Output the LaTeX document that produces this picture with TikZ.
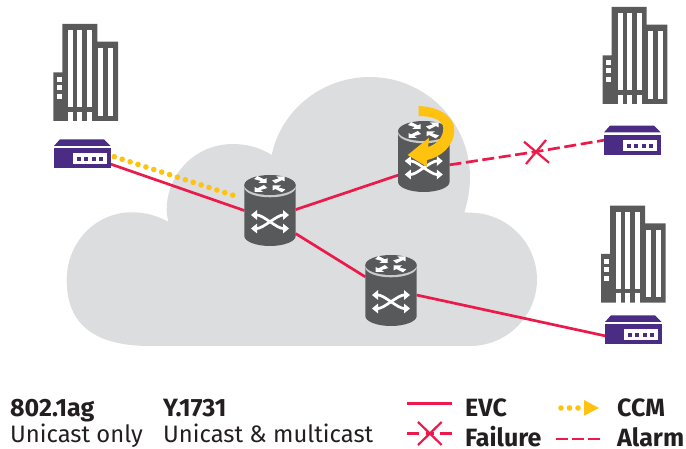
\documentclass[tikz,border=0pt]{standalone}
\usepackage{fontspec}
\setmainfont{Fira Sans}
\usetikzlibrary{arrows.meta,calc}
\definecolor{cloudgrey}{HTML}{DCDDDF}
\definecolor{bldgrey}{HTML}{5A5A5A}
\definecolor{rtgrey}{HTML}{58595B}
\definecolor{rtband}{HTML}{C9CACC}
\definecolor{evcred}{HTML}{EC1A4B}
\definecolor{ccmyellow}{HTML}{FFC20E}
\definecolor{modempurple}{HTML}{4B2C85}
\definecolor{txt}{HTML}{231F20}
\tikzset{
  devbox/.style={inner sep=0pt,outer sep=0pt,minimum width=#1},
  rtbox/.style={devbox=51.4pt,minimum height=71pt},
  mdbox/.style={devbox=56.7pt,minimum height=29pt},
  evc/.style={draw=evcred,line width=2.7pt},
  alarm/.style={draw=evcred,line width=2.7pt,dash pattern=on 12pt off 4.6pt},
  failx/.style={draw=evcred,line width=2.2pt},
  ccm/.style={draw=ccmyellow,line width=5.6pt,line cap=round,dash pattern=on 0pt off 8.3pt},
  legendtext/.style={anchor=base west,inner sep=0pt,text=txt,font=\fontsize{23.8}{28}\selectfont},
  legendbold/.style={legendtext,font=\fontsize{25}{28}\selectfont\bfseries},
  xcurve/.style={draw=white,line width=2.7pt,{Triangle[length=6pt,width=9.5pt]}-{Triangle[length=6pt,width=9.5pt]}},
  cornerarrow/.pic={\fill[white] (1,1) -- (-.4,1) -- (.05,.4) -- (-1.1,-.2) -- (-.55,-1.1) -- (.55,-.1) -- (1,-.5) -- cycle;},
  % origin: bottom left corner of the building
  building/.pic={
    \fill[bldgrey] (0,0) -- (0,-48.7) -- (9,-48.7) -- (9,-97) -- (44,-97) -- (44,-79.3) -- (64.7,-79.3) -- (64.7,0) -- cycle;
    \foreach \xa in {15,24,34}{
      \fill[white] (\xa,-91) rectangle ++(5,77.3);
      \fill[white] (\xa,-9.3) rectangle ++(5,9.3);
    }
    \foreach \xa in {45,55}{\fill[white] (\xa,-72.7) rectangle ++(4.8,67.4);}
    \foreach \ya in {-43.7,-36,-27}{\fill[white] (3.4,\ya) rectangle ++(5,5);}
  },
  % origin: centre of the modem
  modem/.pic={
    \fill[modempurple] (-28.35,-7.8) -- (-22.4,-14.5) -- (21.6,-14.5) -- (28.35,-7.8) -- cycle;
    \fill[modempurple] (-28.35,-5.5) rectangle (28.35,14.5);
    \fill[white] (-9.7,-.5) rectangle (24.3,10.5);
    \foreach \xa in {-5.4,1.9,9.2,16.5}{\fill[modempurple] (\xa,3.5) rectangle ++(4,4);}
  },
  % origin: centre of the router
  router/.pic={
    \fill[rtgrey] (-25.7,-25.5) -- (-25.7,25.5) .. controls (-25.7,31) and (-14,35.5) .. (0,35.5) .. controls (14,35.5) and (25.7,31) .. (25.7,25.5) -- (25.7,-25.5) -- cycle;
    \fill[rtband] (0,-23.2) ellipse [x radius=25.7,y radius=10];
    \fill[rtgrey] (0,-25.5) ellipse [x radius=25.7,y radius=10];
    \pic[xscale=6,yscale=3.3] at (-9.3,-30.8) {cornerarrow};
    \pic[xscale=6,yscale=-3.3] at (8.7,-30.8) {cornerarrow};
    \pic[xscale=-6,yscale=3.3] at (-9.3,-21.8) {cornerarrow};
    \pic[xscale=-6,yscale=-3.3] at (8.7,-21.8) {cornerarrow};
    \draw[xcurve] (-19,4.5) -- (-13,4.5) .. controls (-7,4.5) and (7,18) .. (13,18) -- (19,18);
    \draw[xcurve] (-19,18) -- (-13,18) .. controls (-7,18) and (7,4.5) .. (13,4.5) -- (19,4.5);
  }
}
\begin{document}
\begin{tikzpicture}[x=1pt,y=-1pt]
\useasboundingbox (0,0) rectangle (686,449);
% cloud
\fill[cloudgrey] (168.3,221.7) .. controls (157,215.5) and (145,212.3) .. (131.7,212.3)
  .. controls (95,212.3) and (66.7,243) .. (66.7,280)
  .. controls (66.7,325) and (95,346) .. (150,346)
  -- (470,346)
  .. controls (507,346) and (537,316) .. (537,279.5)
  .. controls (537,243) and (507,212.7) .. (470,212.7)
  -- (464.3,212.3)
  .. controls (468,201) and (470,189) .. (470,177)
  .. controls (470,122) and (425,77) .. (370,77)
  .. controls (322,77) and (281,110) .. (271.7,155)
  .. controls (261,148) and (247,144) .. (233,144)
  .. controls (196,144) and (166.7,173) .. (166.7,210)
  .. controls (166.7,214) and (167.5,218) .. (168.3,221.7) -- cycle;
% devices (anchors for the connectors)
\node[mdbox] (m1) at (82.35,153.8) {};
\node[mdbox] (m2) at (632.35,140.2) {};
\node[mdbox] (m3) at (633.35,329.8) {};
\node[rtbox] (r1) at (270,210.5) {};
\node[rtbox] (r2) at (423.8,156.5) {};
\node[rtbox] (r3) at (391,290.5) {};
\node[inner sep=0pt,minimum size=0pt] (x1) at (536,151.7) {};
% connectors
\draw[evc] (m1.-20.3) -- (r1.180);
\draw[evc] (r1.2.5) -- (r2.216);
\draw[evc] (r1.-42) -- (r3.152);
\draw[evc] (r3.-10) -- (m3.-168);
\draw[alarm] (r2.-18.4) -- (x1.center) -- (m2.180);
\coordinate (ccmA) at ($(m1.east)+(3.6,2.9)$);
\coordinate (ccmB) at ($(r1.west)+(-9,-14.5)$);
\draw[ccm] (ccmA) -- (ccmB);
\draw[failx] (524,141.7) -- (549,162.7);
\draw[failx] (546,140) -- (526,164);
% devices
\pic at (53.3,121) {building};
\pic at (602.7,104) {building};
\pic at (601,302.7) {building};
\pic at (m1) {modem};
\pic at (m2) {modem};
\pic at (m3) {modem};
\pic at (r1) {router};
\pic at (r2) {router};
\pic at (r3) {router};
% rotating arrow
\fill[ccmyellow] (418.7,106) .. controls (440,107) and (454.5,117) .. (454.3,130)
  .. controls (454,147) and (440,157) .. (427.2,160) -- (426.7,166.7) -- (407.7,155) -- (429,137.7) -- (428.2,147)
  .. controls (437,144) and (443.5,137) .. (443.3,128)
  .. controls (443,120) and (432,116) .. (418.7,116) -- cycle;
% legend
\node[legendbold] (t1) at (10,416) {802.1ag};
\node[legendtext] (t2) at (10,442.5) {Unicast only};
\node[legendbold] (t3) at (163,416) {Y.1731};
\node[legendtext] (t4) at (163,442.5) {Unicast \& multicast};
\node[legendbold] (t5) at (465,416) {EVC};
\node[legendbold] (t6) at (465,446.5) {Failure};
\node[legendbold] (t7) at (617,416) {CCM};
\node[legendbold] (t8) at (617,446.5) {Alarm};
\coordinate (la) at (407,403.7); \coordinate (lb) at (452,403.7);
\draw[evc] (la) -- (lb);
\coordinate (lc) at (407,433.3); \coordinate (ld) at (452,433.3);
\draw[alarm,dash pattern=on 12pt off 6.5pt on 8pt off 6.5pt on 12pt] (lc) -- (ld);
\draw[failx] (418,422) -- (441.7,445);
\draw[failx] (441.7,422) -- (418,445);
\coordinate (le) at (561,408); \coordinate (lf) at (578.6,408);
\draw[ccm,dash pattern=on 0pt off 8.5pt] (le) -- (lf);
\fill[ccmyellow] (584,400) -- (599,408) -- (584,415.7) -- cycle;
\coordinate (lg) at (555.7,439); \coordinate (lh) at (600,439);
\draw[alarm,dash pattern=on 12pt off 4.15pt] (lg) -- (lh);
\end{tikzpicture}
\end{document}
